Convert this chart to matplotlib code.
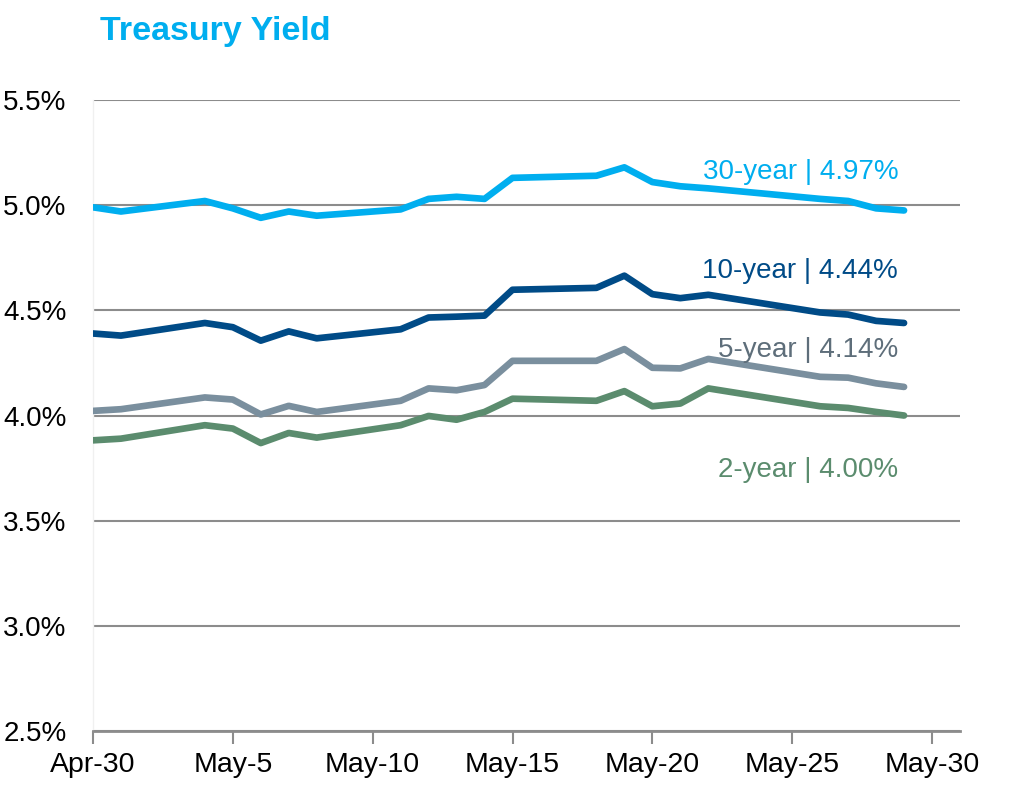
import matplotlib
matplotlib.use("Agg")
import matplotlib.pyplot as plt
import matplotlib.dates as mdates
import pandas as pd

plt.rcParams["font.family"] = ["Liberation Sans", "DejaVu Sans"]

# ---- data --------------------------------------------------------------------
dates = pd.to_datetime([
    "2020-04-30", "2020-05-01", "2020-05-04", "2020-05-05", "2020-05-06",
    "2020-05-07", "2020-05-08", "2020-05-11", "2020-05-12", "2020-05-13",
    "2020-05-14", "2020-05-15", "2020-05-18", "2020-05-19", "2020-05-20",
    "2020-05-21", "2020-05-22", "2020-05-26", "2020-05-27", "2020-05-28",
    "2020-05-29",
])
y30 = [4.99, 4.97, 5.02, 4.985, 4.94, 4.97, 4.95, 4.98, 5.03, 5.04, 5.03,
       5.13, 5.14, 5.18, 5.11, 5.09, 5.08, 5.03, 5.02, 4.985, 4.975]
y10 = [4.39, 4.38, 4.44, 4.42, 4.356, 4.40, 4.367, 4.41, 4.466, 4.47, 4.475,
       4.598, 4.607, 4.665, 4.577, 4.558, 4.574, 4.49, 4.48, 4.45, 4.44]
y5 = [4.022, 4.03, 4.086, 4.076, 4.005, 4.046, 4.017, 4.07, 4.129, 4.12, 4.145,
      4.26, 4.26, 4.316, 4.227, 4.224, 4.269, 4.184, 4.18, 4.153, 4.136]
y2 = [3.882, 3.89, 3.954, 3.938, 3.869, 3.917, 3.895, 3.954, 3.998, 3.98, 4.017,
      4.08, 4.07, 4.116, 4.044, 4.057, 4.129, 4.044, 4.036, 4.017, 4.00]

series = [
    ("30-year | 4.97%", y30, "#00AEEF", "#00AEEF", 5.16),
    ("10-year | 4.44%", y10, "#004B87", "#004B87", 4.685),
    ("5-year | 4.14%", y5, "#7A8F9E", "#5E6E7A", 4.31),
    ("2-year | 4.00%", y2, "#5B8C6E", "#5B8C6E", 3.74),
]

xticks = pd.date_range("2020-04-30", "2020-05-30", freq="5D")
yticks = [2.5, 3.0, 3.5, 4.0, 4.5, 5.0, 5.5]

# ---- figure ------------------------------------------------------------------
fig = plt.figure(figsize=(10.24, 7.99), dpi=100)
ax = fig.add_axes([0.0908, 0.0851, 0.8467, 0.7897])

for label, ys, lc, tc, ty in series:
    ax.plot(dates, ys, color=lc, lw=4.8, solid_joinstyle="round",
            solid_capstyle="round", zorder=3)
    ax.text(pd.Timestamp("2020-05-28 19:00"), ty, label, color=tc,
            fontsize=20, ha="right", va="center")

ax.set_ylim(2.5, 5.5)
ax.set_xlim(pd.Timestamp("2020-04-30"), pd.Timestamp("2020-05-31"))
ax.set_yticks(yticks)
ax.set_yticklabels([f"{v:.1f}%" for v in yticks])
ax.set_xticks(xticks)
ax.xaxis.set_major_formatter(mdates.DateFormatter("%b-%-d"))
ax.grid(axis="y", color="#8C8C8C", lw=1.5, zorder=1)

for s in ("top", "right"):
    ax.spines[s].set_visible(False)
ax.spines["left"].set_color("#F0F0F0")
ax.spines["left"].set_linewidth(1.0)
ax.spines["bottom"].set_color("#8C8C8C")
ax.spines["bottom"].set_linewidth(2.0)

ax.tick_params(axis="y", length=0, labelsize=20, pad=19, colors="black")
ax.tick_params(axis="x", length=9, width=1.5, color="#8C8C8C",
               labelsize=20.5, pad=6, labelcolor="black")

fig.text(0.098, 0.96, "Treasury Yield", color="#00AEEF", fontsize=24.5,
         fontweight="bold", ha="left", va="center")

fig.savefig("out.png", dpi=100)
